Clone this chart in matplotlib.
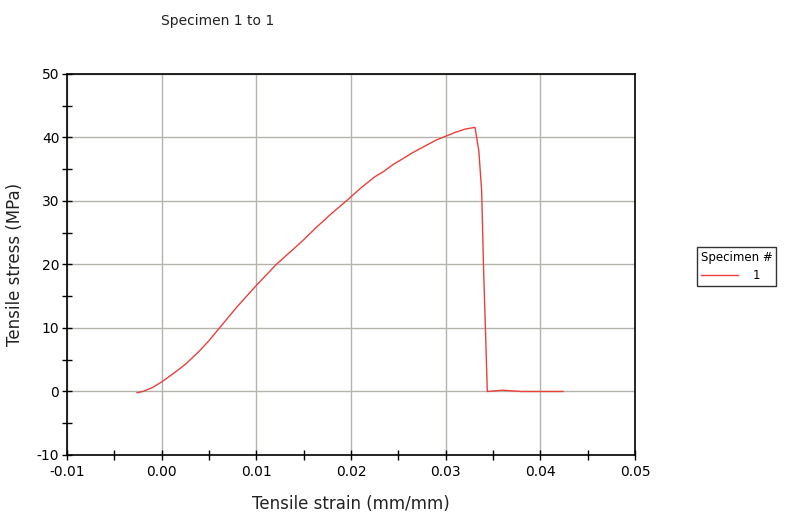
import matplotlib
matplotlib.use('Agg')
import matplotlib.pyplot as plt
from matplotlib.ticker import MultipleLocator

# tensile test, specimen 1
strain = [-0.0026, -0.0020, -0.0010, 0.0, 0.0013, 0.0026, 0.0040, 0.0050, 0.0061,
          0.0080, 0.0100, 0.0121, 0.0139, 0.0150, 0.0163, 0.0180, 0.0195,
          0.0210, 0.0225, 0.0234, 0.0245, 0.0253, 0.0265, 0.0275, 0.0290,
          0.0300, 0.0310, 0.0320, 0.0331, 0.0335, 0.0338, 0.0340, 0.0344,
          0.0360, 0.0380, 0.0400, 0.0424]
stress = [-0.2, 0.0, 0.6, 1.5, 2.9, 4.4, 6.4, 8.0, 10.0,
          13.4, 16.7, 20.0, 22.4, 23.9, 25.8, 28.1, 30.0,
          32.0, 33.8, 34.6, 35.8, 36.5, 37.6, 38.4, 39.6,
          40.2, 40.8, 41.3, 41.6, 37.9, 31.6, 19.5, 0.0,
          0.2, 0.0, 0.0, 0.0]
xticks = [-0.01, 0.00, 0.01, 0.02, 0.03, 0.04, 0.05]
yticks = [-10, 0, 10, 20, 30, 40, 50]

plt.rcParams['font.family'] = ['DejaVu Sans']
plt.rcParams['axes.unicode_minus'] = False

fig = plt.figure(figsize=(7.87, 5.2), dpi=100)
ax = fig.add_axes([0.0851, 0.125, 0.7218, 0.7327])

ax.plot(strain, stress, color='#e8413c', lw=1.0, label='1')

ax.set_xlim(-0.01, 0.05)
ax.set_ylim(-10, 50)
ax.set_xticks(xticks)
ax.set_xticklabels(['%.2f' % v for v in xticks])
ax.set_yticks(yticks)
ax.xaxis.set_minor_locator(MultipleLocator(0.005))
ax.yaxis.set_minor_locator(MultipleLocator(5))
ax.tick_params(which='both', direction='inout', length=7, width=1, labelsize=10, colors='black')
ax.tick_params(axis='x', pad=4)
ax.tick_params(axis='y', pad=2)
ax.grid(True, which='major', color='#b4b4ac', lw=1)
ax.set_axisbelow(True)
for s in ax.spines.values():
    s.set_color('black')
    s.set_linewidth(1.2)

ax.set_xlabel('Tensile strain (mm/mm)', fontsize=12, color='#222222', labelpad=11)
ax.set_ylabel('Tensile stress (MPa)', fontsize=12, color='#222222', labelpad=9)
fig.text(0.276, 0.96, 'Specimen 1 to 1', fontsize=10, ha='center', va='center', color='#222222')

leg = ax.legend(title='Specimen #', loc='upper left', bbox_to_anchor=(697/787, 1 - 247/520),
                bbox_transform=fig.transFigure, fontsize=8.5, title_fontsize=8.5,
                fancybox=False, edgecolor='#333333', framealpha=1, alignment='left',
                handlelength=3.2, borderpad=0.3, handletextpad=1.2, borderaxespad=0)
leg.get_frame().set_linewidth(1)

fig.savefig('out.png', dpi=100)
